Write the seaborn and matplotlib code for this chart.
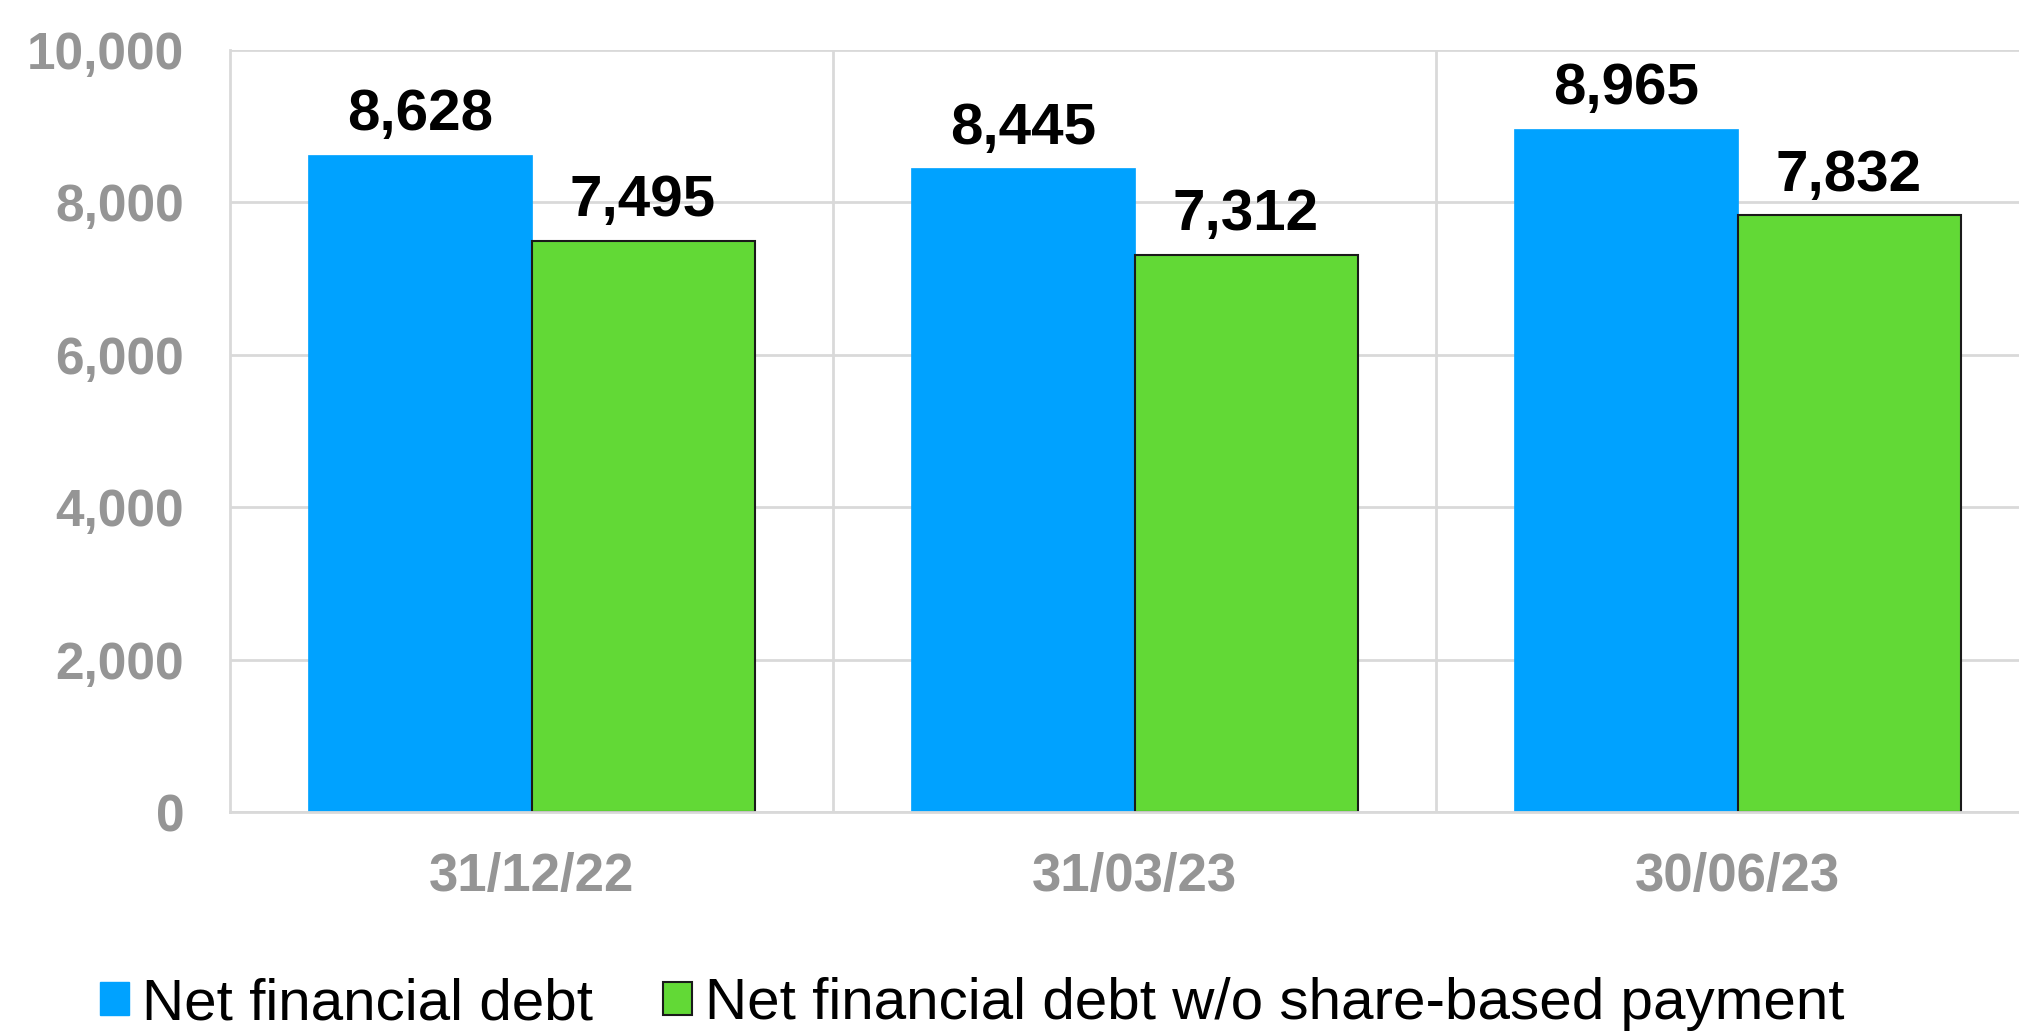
import pandas as pd
import seaborn as sns
import matplotlib.pyplot as plt
from matplotlib.ticker import FuncFormatter, FixedLocator

# ======================
# Data
# ======================
dates = ["31/12/22", "31/03/23", "30/06/23"]
series_names = ["Net financial debt", "Net financial debt w/o share-based payment"]
net_debt = [8628, 8445, 8965]
net_debt_wo_sbp = [7495, 7312, 7832]

BLUE = "#00A2FF"
GREEN = "#62D936"
GRAY_TXT = "#959595"
GRID = "#D9D9D9"

df = pd.DataFrame({
    "date": dates * 2,
    "series": [series_names[0]] * 3 + [series_names[1]] * 3,
    "value": net_debt + net_debt_wo_sbp,
})

# ======================
# Plot
# ======================
sns.set_theme(style="white")
plt.rcParams["font.family"] = ["Liberation Sans", "DejaVu Sans"]

fig = plt.figure(figsize=(20.19, 10.33), dpi=100)
ax = fig.add_axes([230 / 2019, (1033 - 812) / 1033, (2019 - 230) / 2019, (812 - 50) / 1033])

sns.barplot(
    data=df, x="date", y="value", hue="series",
    palette=[BLUE, GREEN], width=0.74, gap=0, saturation=1,
    order=dates, hue_order=series_names, ax=ax, legend=False,
)

# edges: blue none, green thin dark
for p in ax.containers[0]:
    p.set_edgecolor(BLUE)
    p.set_linewidth(0.5)
for p in ax.containers[1]:
    p.set_edgecolor("#1a1a1a")
    p.set_linewidth(1.5)

for cont in ax.containers:
    ax.bar_label(cont, labels=[f"{v:,.0f}" for v in cont.datavalues],
                 padding=9, fontsize=42, fontweight="bold", color="black")

ax.set_ylim(0, 10000)
ax.set_xlim(-0.5, -0.5 + (2019 - 230) / 603)
ax.yaxis.set_major_locator(FixedLocator([0, 2000, 4000, 6000, 8000, 10000]))
ax.yaxis.set_major_formatter(FuncFormatter(lambda v, _: f"{v:,.0f}"))
ax.xaxis.set_minor_locator(FixedLocator([0.5, 1.5, 2.5]))

ax.grid(axis="y", which="major", color=GRID, linewidth=2)
ax.grid(axis="x", which="minor", color=GRID, linewidth=2)
ax.grid(axis="x", which="major", visible=False)
ax.set_axisbelow(True)

for side in ["top", "right"]:
    ax.spines[side].set_visible(False)
for side in ["left", "bottom"]:
    ax.spines[side].set_color(GRID)
    ax.spines[side].set_linewidth(2)

ax.tick_params(axis="both", which="both", length=0)
ax.tick_params(axis="y", pad=33, labelsize=37, labelcolor=GRAY_TXT)
ax.tick_params(axis="x", pad=29, labelsize=38, labelcolor=GRAY_TXT)
for lbl in ax.get_xticklabels() + ax.get_yticklabels():
    lbl.set_fontweight("bold")
ax.set_xlabel("")
ax.set_ylabel("")

# ======================
# Legend
# ======================
handles = [
    plt.Rectangle((0, 0), 1, 1, facecolor=BLUE, edgecolor=BLUE),
    plt.Rectangle((0, 0), 1, 1, facecolor=GREEN, edgecolor="#1a1a1a", linewidth=1.5),
]
leg = fig.legend(
    handles, series_names, loc="center left",
    bbox_to_anchor=(100 / 2019, 1 - 1004 / 1033), frameon=False,
    ncol=2, fontsize=42, handlelength=0.5, handleheight=0.5,
    handletextpad=0.22, columnspacing=1.2, borderpad=0, borderaxespad=0,
)
for t in leg.get_texts():
    t.set_color("black")

plt.savefig("out.png", dpi=100)
plt.close()
